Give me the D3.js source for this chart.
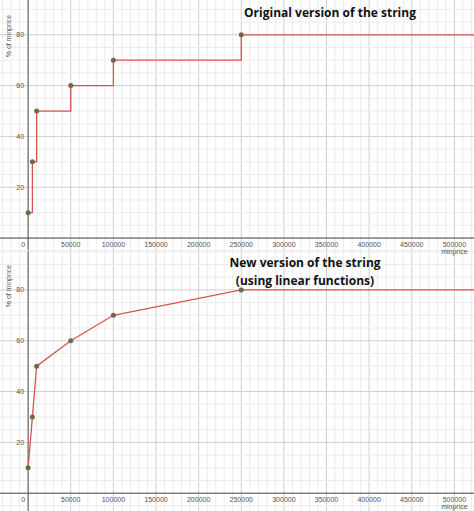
<!DOCTYPE html><html><head><meta charset="utf-8"><script src="https://cdn.jsdelivr.net/npm/d3@7"></script>
<style>body{margin:0;background:#fff}</style></head><body><svg id="c" width="474" height="511"></svg><script>
const xs=[0,5000,10000,50000,100000,250000];
const ys=[10,30,50,60,70,80];
const xEnd=523000;
const xTicks=[50000,100000,150000,200000,250000,300000,350000,400000,450000,500000];
const yTicks=[20,40,60,80];
const svg=d3.select("#c");
const panels=[
 {top:250,h:261,yMax:95.7,yMin:-7,step:false,title:["New version of the string","(using linear functions)"],tx:305,ty:267},
 {top:0,h:250,yMax:93.7,yMin:-4.7,step:true,title:["Original version of the string"],tx:330,ty:17}
];
panels.forEach(p=>{
 const g=svg.append("g").attr("transform",`translate(0,${p.top})`);
 const x=d3.scaleLinear().domain([-33000,xEnd]).range([0,474]);
 const y=d3.scaleLinear().domain([p.yMin,p.yMax]).range([p.h,0]);
 g.append("rect").attr("width",474).attr("height",p.h).attr("fill","#fff");
 for(let v=-30000;v<=xEnd;v+=10000) g.append("line").attr("x1",x(v)).attr("x2",x(v)).attr("y1",0).attr("y2",p.h).attr("stroke",v%50000===0?"#cfcfcf":"#ececec").attr("stroke-width",1);
 for(let v=-5;v<=p.yMax;v+=5) g.append("line").attr("y1",y(v)).attr("y2",y(v)).attr("x1",0).attr("x2",474).attr("stroke",v%20===0?"#cfcfcf":"#ececec");
 g.append("line").attr("x1",x(0)).attr("x2",x(0)).attr("y1",0).attr("y2",p.h).attr("stroke","#555");
 g.append("line").attr("y1",y(0)).attr("y2",y(0)).attr("x1",0).attr("x2",474).attr("stroke","#555");
 const ft="font-family:'Liberation Sans',Arial;font-size:7px;fill:#555";
 xTicks.forEach(v=>g.append("text").attr("x",x(v)).attr("y",y(0)+9).attr("text-anchor","middle").attr("style",ft).text(v));
 g.append("text").attr("x",x(0)-5).attr("y",y(0)+9).attr("text-anchor","middle").attr("style",ft).text(0);
 yTicks.forEach(v=>g.append("text").attr("x",x(0)-4).attr("y",y(v)+2.5).attr("text-anchor","end").attr("style",ft).text(v));
 g.append("text").attr("x",x(500000)).attr("y",y(0)+16).attr("text-anchor","middle").attr("style",ft).text("minprice");
 g.append("text").attr("transform",`translate(11,${y(p.yMax)+36}) rotate(-90)`).attr("text-anchor","middle").attr("style",ft).text("% of minprice");
 const data=xs.map((d,i)=>[d,ys[i]]).concat([[xEnd,ys[ys.length-1]]]);
 const line=d3.line().x(d=>x(d[0])).y(d=>y(d[1])).curve(p.step?d3.curveStepAfter:d3.curveLinear);
 g.append("path").attr("d",line(data)).attr("fill","none").attr("stroke","#d9534f").attr("stroke-width",1.3);
 xs.forEach((d,i)=>g.append("circle").attr("cx",x(d)).attr("cy",y(ys[i])).attr("r",2.5).attr("fill","#6b6b4a"));
 p.title.forEach((t,i)=>g.append("text").attr("x",p.tx).attr("y",p.ty-p.top+i*18).attr("text-anchor","middle").attr("style","font-family:'Open Sans',sans-serif;font-weight:bold;font-size:12px;fill:#111").text(t));
});
</script></body></html>
